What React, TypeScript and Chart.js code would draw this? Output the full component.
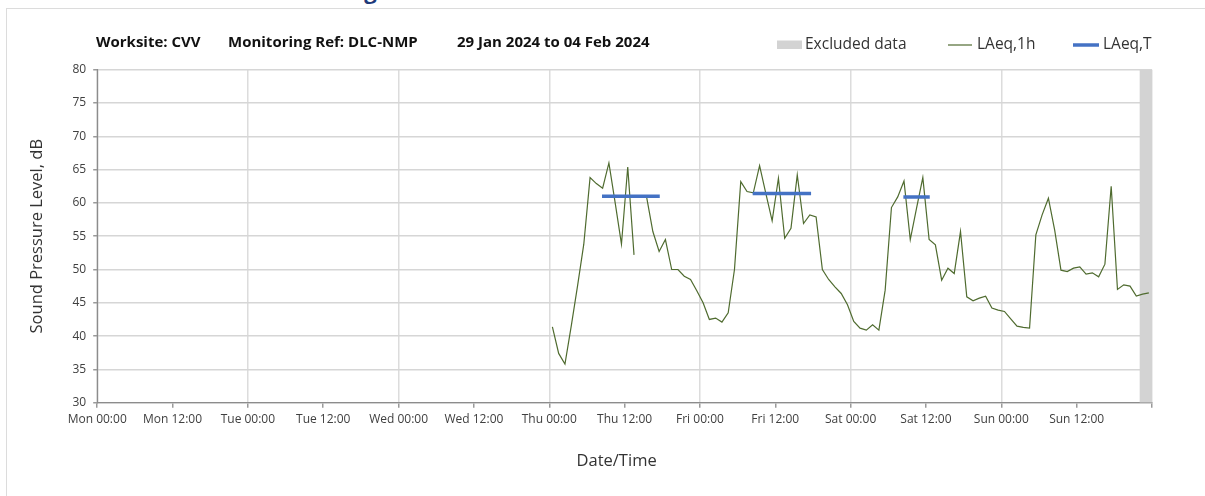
import React, { useEffect, useRef } from 'react';
import { Chart, registerables } from 'chart.js';

Chart.register(...registerables);

// ---------- data ----------
const dayNames = ['Mon', 'Tue', 'Wed', 'Thu', 'Fri', 'Sat', 'Sun'];
const xMin = 0;
const xMax = 168;
const xStep = 12;
const yMin = 30;
const yMax = 80;
const yStep = 5;

const headerText = 'Construction Noise Monitoring Results';
const titleParts = ['Worksite: CVV', 'Monitoring Ref: DLC-NMP', '29 Jan 2024 to 04 Feb 2024'];

const legendLabels = ['Excluded data', 'LAeq,1h', 'LAeq,T'];

// hourly LAeq,1h values, first one at Thu 00:30 (hour 72.5 from Mon 00:00)
const laeq1hFirstHour = 72.5;
const laeq1hThu: (number | null)[] = [
  41.4, 37.4, 35.8, 41.5, 47.5, 53.8, 63.8, 62.9, 62.2, 66.0, 60.0, 53.8,
  65.4, 52.2, null, 60.9, 55.7, 52.7, 54.5, 50.0, 50.0, 49.0, 48.5, 46.8,
];
const laeq1hFri: (number | null)[] = [
  45.0, 42.5, 42.7, 42.1, 43.5, 50.0, 63.2, 61.7, 61.5, 65.6, 61.4, 57.3,
  63.7, 54.7, 56.2, 64.2, 56.9, 58.2, 57.9, 50.0, 48.5, 47.4, 46.4, 44.7,
];
const laeq1hSat: (number | null)[] = [
  42.2, 41.2, 40.9, 41.7, 40.9, 46.9, 59.3, 60.9, 63.3, 54.5, 59.2, 63.8,
  54.5, 53.7, 48.4, 50.2, 49.4, 55.7, 45.9, 45.3, 45.7, 46.0, 44.2, 43.9,
];
const laeq1hSun: (number | null)[] = [
  43.7, 42.6, 41.5, 41.3, 41.2, 55.2, 58.2, 60.7, 55.9, 49.9, 49.7, 50.2,
  50.4, 49.3, 49.5, 48.9, 50.8, 62.5, 47.0, 47.7, 47.5, 46.0, 46.3, 46.5,
];

// LAeq,T periods (hours from Mon 00:00) and levels
const laeqTStart = [80.4, 104.4, 128.4];
const laeqTEnd = [89.6, 113.7, 132.6];
const laeqTValue = [61.0, 61.4, 60.9];

// Excluded data period
const excludedStart = 166;
const excludedEnd = 168;

// ---------- styles ----------
const GREEN = '#4F6B2F';
const BLUE = '#4472C4';
const GREY_BAND = '#d3d3d3';
const FONT = '"Open Sans", "DejaVu Sans", sans-serif';

const TITLE_X = [96, 228, 457];
const TITLE_W = [116, 208, 211];
const TITLE_Y = 43;
const LEGEND_Y = 45;
const X_TITLE_SHIFT = -8;

const overlayPlugin = {
  id: 'overlayTitleLegend',
  afterDraw(chart: any) {
    const ctx = chart.ctx as CanvasRenderingContext2D;
    ctx.save();
    ctx.textBaseline = 'middle';
    ctx.textAlign = 'left';
    ctx.fillStyle = '#111111';
    ctx.font = `bold 15px ${FONT}`;
    titleParts.forEach((t, i) => ctx.fillText(t, TITLE_X[i], TITLE_Y, TITLE_W[i]));

    ctx.font = `15.5px ${FONT}`;
    // Excluded data
    ctx.fillStyle = GREY_BAND;
    ctx.fillRect(777, LEGEND_Y - 4.5, 25, 8.5);
    ctx.fillStyle = '#333333';
    ctx.fillText(legendLabels[0], 805, LEGEND_Y, 108);
    // LAeq,1h
    ctx.strokeStyle = GREEN;
    ctx.lineWidth = 1.2;
    ctx.beginPath();
    ctx.moveTo(948, LEGEND_Y);
    ctx.lineTo(972, LEGEND_Y);
    ctx.stroke();
    ctx.fillText(legendLabels[1], 977, LEGEND_Y, 63);
    // LAeq,T
    ctx.strokeStyle = BLUE;
    ctx.lineWidth = 3.5;
    ctx.beginPath();
    ctx.moveTo(1073, LEGEND_Y);
    ctx.lineTo(1099, LEGEND_Y);
    ctx.stroke();
    ctx.fillText(legendLabels[2], 1103, LEGEND_Y, 56);
    ctx.restore();
  },
};

function buildGreen() {
  const all = [...laeq1hThu, ...laeq1hFri, ...laeq1hSat, ...laeq1hSun];
  return all.map((v, i) => ({ x: laeq1hFirstHour + i, y: v }));
}

function buildBlue() {
  const pts: { x: number; y: number | null }[] = [];
  laeqTStart.forEach((s, i) => {
    pts.push({ x: s, y: laeqTValue[i] });
    pts.push({ x: laeqTEnd[i], y: laeqTValue[i] });
    if (i < laeqTStart.length - 1) {
      pts.push({ x: (laeqTEnd[i] + laeqTStart[i + 1]) / 2, y: null });
    }
  });
  return pts;
}

function tickLabel(v: number) {
  if (v >= xMax) return '';
  const d = Math.floor(v / 24);
  const h = v % 24;
  return `${dayNames[d]} ${h === 0 ? '00' : '12'}:00`;
}

export default function App() {
  const canvasRef = useRef<HTMLCanvasElement | null>(null);

  useEffect(() => {
    if (!canvasRef.current) return;
    const chart = new Chart(canvasRef.current, {
      type: 'line',
      data: {
        datasets: [
          {
            label: legendLabels[2],
            data: buildBlue(),
            borderColor: BLUE,
            backgroundColor: BLUE,
            borderWidth: 3.5,
            pointRadius: 0,
            spanGaps: false,
            order: 0,
          },
          {
            label: legendLabels[1],
            data: buildGreen(),
            borderColor: GREEN,
            backgroundColor: GREEN,
            borderWidth: 1.2,
            pointRadius: 0,
            tension: 0,
            spanGaps: false,
            order: 1,
          },
          {
            label: legendLabels[0],
            data: [
              { x: excludedStart, y: yMax },
              { x: excludedEnd, y: yMax },
            ],
            borderWidth: 0,
            borderColor: 'rgba(0,0,0,0)',
            backgroundColor: GREY_BAND,
            pointRadius: 0,
            fill: 'start',
            order: 2,
          },
        ] as any,
      },
      options: {
        animation: false,
        responsive: false,
        events: [],
        layout: { padding: { top: 69.7, right: 53, bottom: 0, left: 0 } },
        plugins: {
          legend: { display: false },
          title: { display: false },
          tooltip: { enabled: false },
        },
        scales: {
          x: {
            type: 'linear',
            min: xMin,
            max: xMax,
            afterFit: (s: any) => {
              s.height = 93.3;
            },
            ticks: {
              stepSize: xStep,
              autoSkip: false,
              maxRotation: 0,
              padding: 5,
              color: '#404040',
              font: { family: FONT, size: 12 },
              callback: (v: any) => tickLabel(Number(v)),
            },
            grid: {
              color: (c: any) => (c.tick && c.tick.value % 24 === 0 ? '#dcdcdc' : 'rgba(0,0,0,0)'),
              tickColor: '#9a9a9a',
              lineWidth: 1.5,
              tickLength: 5,
            },
            border: { display: true, color: '#8c8c8c', width: 1.2 },
            title: {
              display: false,
            },
          },
          y: {
            type: 'linear',
            min: yMin,
            max: yMax,
            afterFit: (s: any) => {
              s.width = 97.2;
            },
            ticks: {
              stepSize: yStep,
              padding: 7,
              color: '#404040',
              font: { family: FONT, size: 12 },
            },
            grid: {
              color: '#d6d6d6',
              tickColor: '#9a9a9a',
              lineWidth: 1.5,
              tickLength: 4,
            },
            border: { display: true, color: '#8c8c8c', width: 1.2 },
            title: {
              display: true,
              text: 'Sound Pressure Level, dB',
              color: '#333333',
              font: { family: FONT, size: 16.5 },
              padding: { top: 27.6, bottom: 0 },
            },
          },
        },
      } as any,
      plugins: [
        overlayPlugin,
        {
          id: 'xTitle',
          afterDraw(c: any) {
            const ctx = c.ctx as CanvasRenderingContext2D;
            const area = c.chartArea;
            ctx.save();
            ctx.font = `16.5px ${FONT}`;
            ctx.fillStyle = '#333333';
            ctx.textAlign = 'center';
            ctx.textBaseline = 'middle';
            ctx.fillText('Date/Time', (area.left + area.right) / 2 + X_TITLE_SHIFT, 461);
            ctx.restore();
          },
        },
      ],
    });
    return () => chart.destroy();
  }, []);

  return (
    <div
      style={{
        position: 'absolute',
        left: 0,
        top: 0,
        width: 1205,
        height: 496,
        overflow: 'hidden',
        background: '#ffffff',
      }}
    >
      <div
        style={{
          position: 'absolute',
          left: 38,
          top: -25,
          fontFamily: FONT,
          fontWeight: 700,
          fontSize: 22,
          lineHeight: '30px',
          color: '#1F3A7A',
          whiteSpace: 'nowrap',
        }}
      >
        {headerText}
      </div>
      <div
        style={{
          position: 'absolute',
          left: 6,
          top: 8,
          width: 1220,
          height: 520,
          borderLeft: '1.5px solid #dcdcdc',
          borderTop: '1.5px solid #dcdcdc',
          boxSizing: 'border-box',
        }}
      />
      <canvas
        ref={canvasRef}
        width={1205}
        height={496}
        style={{ position: 'absolute', left: 0, top: 0, width: 1205, height: 496 }}
      />
    </div>
  );
}
